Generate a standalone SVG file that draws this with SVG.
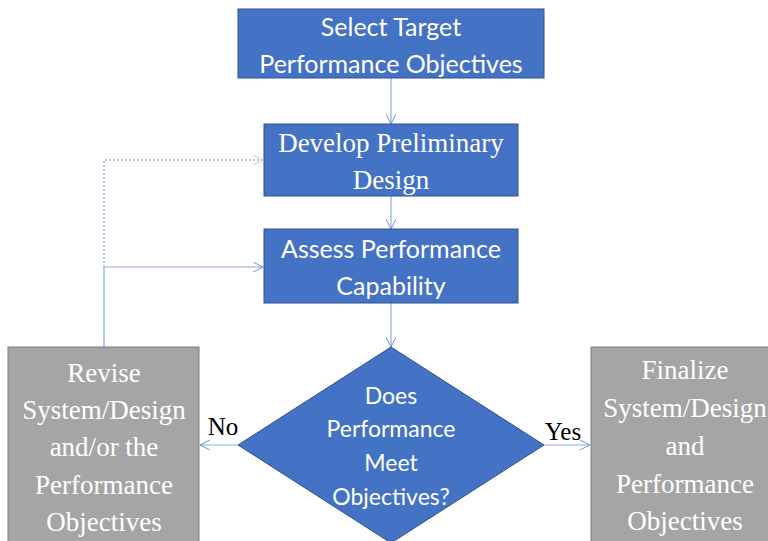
<svg xmlns="http://www.w3.org/2000/svg" width="768" height="541" viewBox="0 0 768 541">
<style>
.blue{fill:#4472C4;stroke:#2F528F;stroke-width:1}
.gray{fill:#A5A5A5;stroke:#7F7F7F;stroke-width:1}
.sans{font-family:Lato,"Open Sans","Liberation Sans",sans-serif;fill:#FFFFFF;text-anchor:middle}
.serif{font-family:"Liberation Serif","Times New Roman",serif;fill:#FFFFFF;text-anchor:middle}
.lbl{font-family:"Liberation Serif","Times New Roman",serif;fill:#000000;font-size:25px;text-anchor:middle}
.conn{fill:none;stroke:#8FAADC;stroke-width:1.2}
.dot{fill:none;stroke:#B4C7E7;stroke-width:2;stroke-dasharray:2 2}
</style>
<defs>
<marker id="arr" viewBox="0 0 10 10" refX="10" refY="5" markerWidth="10" markerHeight="10" markerUnits="userSpaceOnUse" orient="auto">
<path d="M0,0 L10,5 L0,10" fill="none" stroke="#6F93D6" stroke-width="1"/>
</marker>
<marker id="arrL" viewBox="0 0 10 10" refX="10" refY="5" markerWidth="10" markerHeight="10" markerUnits="userSpaceOnUse" orient="auto">
<path d="M0,0 L10,5 L0,10" fill="none" stroke="#B4C7E7" stroke-width="1"/>
</marker>
</defs>
<g id="connectors">
<line class="conn" x1="391" y1="78" x2="391" y2="124" marker-end="url(#arr)"/>
<line class="conn" x1="391" y1="196" x2="391" y2="229" marker-end="url(#arr)"/>
<line class="conn" x1="391" y1="303" x2="391" y2="347" marker-end="url(#arr)"/>
<line class="conn" x1="238" y1="445" x2="200" y2="445" marker-end="url(#arr)"/>
<line class="conn" x1="544" y1="445" x2="590" y2="445" marker-end="url(#arr)"/>
<polyline class="conn" points="104,347 104,267 263,267" marker-end="url(#arr)"/>
<polyline class="dot" points="104,347 104,160 263,160" marker-end="url(#arrL)"/>
</g>
<g id="n1">
<rect class="blue" x="238" y="9" width="306" height="69"/>
<text class="sans" font-size="25" x="391" y="36">Select Target</text>
<text class="sans" font-size="25" x="391" y="73">Performance Objectives</text>
</g>
<g id="n2">
<rect class="blue" x="264" y="124" width="254" height="72"/>
<text class="serif" font-size="27" x="391" y="152">Develop Preliminary</text>
<text class="serif" font-size="27" x="391" y="189">Design</text>
</g>
<g id="n3">
<rect class="blue" x="264" y="229" width="254" height="74"/>
<text class="sans" font-size="25" x="391" y="258">Assess Performance</text>
<text class="sans" font-size="25" x="391" y="295">Capability</text>
</g>
<g id="n4">
<polygon class="blue" points="391,347 544,445 391,543 238,445"/>
<text class="sans" font-size="23" x="391" y="404">Does</text>
<text class="sans" font-size="23" x="391" y="437">Performance</text>
<text class="sans" font-size="23" x="391" y="471">Meet</text>
<text class="sans" font-size="23" x="391" y="505">Objectives?</text>
</g>
<g id="n5">
<rect class="gray" x="8" y="347" width="191" height="200"/>
<text class="serif" font-size="27" x="104" y="382">Revise</text>
<text class="serif" font-size="27" x="104" y="419">System/Design</text>
<text class="serif" font-size="27" x="104" y="456">and/or the</text>
<text class="serif" font-size="27" x="104" y="494">Performance</text>
<text class="serif" font-size="27" x="104" y="531">Objectives</text>
</g>
<g id="n6">
<rect class="gray" x="591" y="347" width="191" height="200"/>
<text class="serif" font-size="27" x="685" y="379">Finalize</text>
<text class="serif" font-size="27" x="685" y="417">System/Design</text>
<text class="serif" font-size="27" x="685" y="455">and</text>
<text class="serif" font-size="27" x="685" y="493">Performance</text>
<text class="serif" font-size="27" x="685" y="530">Objectives</text>
</g>
<g id="labels">
<text class="lbl" x="223" y="435">No</text>
<text class="lbl" x="563" y="440">Yes</text>
</g>
</svg>
